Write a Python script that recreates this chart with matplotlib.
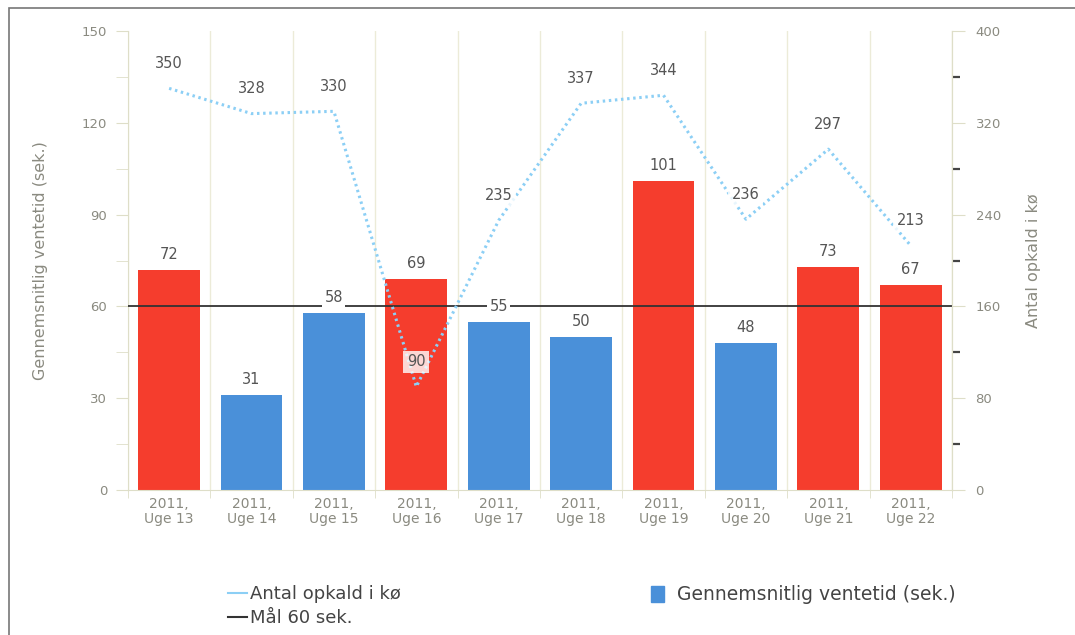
import matplotlib.pyplot as plt
import numpy as np
from matplotlib.lines import Line2D
from matplotlib.patches import Patch, Rectangle

# data
weeks = ["2011,\nUge 13", "2011,\nUge 14", "2011,\nUge 15", "2011,\nUge 16", "2011,\nUge 17",
         "2011,\nUge 18", "2011,\nUge 19", "2011,\nUge 20", "2011,\nUge 21", "2011,\nUge 22"]
wait_sec = [72, 31, 58, 69, 55, 50, 101, 48, 73, 67]
calls_in_queue = [350, 328, 330, 90, 235, 337, 344, 236, 297, 213]
target = 60

RED = '#f53d2d'
BLUE = '#4a90d9'
LINE_BLUE = '#8ccff5'
AXIS_COL = '#dedec8'
TICK_TXT = '#8a8a80'
LABEL_TXT = '#555555'

plt.rcParams['font.family'] = ['DejaVu Sans']

fig = plt.figure(figsize=(10.75, 6.35), dpi=100)
ax = fig.add_axes([0.119, 0.2283, 0.7665, 0.7229])
ax2 = ax.twinx()

x = np.arange(len(weeks))
colors = [RED if v > target else BLUE for v in wait_sec]
ax.bar(x, wait_sec, width=0.75, color=colors, zorder=2)
ax.axhline(target, color='#333333', lw=1.3, zorder=3)

for xi, v in zip(x, wait_sec):
    ax.annotate(str(v), (xi, v), xytext=(0, 11), textcoords='offset points',
                ha='center', va='center', fontsize=10.5, color=LABEL_TXT, zorder=5,
                bbox=dict(boxstyle='square,pad=0.15', fc='white', ec='none'))

ax.set_xlim(-0.5, len(weeks) - 0.5)
ax.set_ylim(0, 150)
ax.set_yticks(np.arange(0, 151, 30))
ax.set_yticks(np.arange(15, 150, 30), minor=True)
ax.set_xticks(x)
ax.set_xticklabels(weeks, fontsize=10, color=TICK_TXT, linespacing=1.1)
ax.set_xticks(np.arange(-0.5, len(weeks), 1), minor=True)
ax.tick_params(axis='x', which='major', length=0, pad=5)
ax.tick_params(axis='x', which='minor', length=6, color=AXIS_COL)
ax.tick_params(axis='y', which='both', length=9, color=AXIS_COL, labelsize=9.5,
               labelcolor=TICK_TXT, pad=6)
ax.grid(True, axis='x', which='minor', color='#ecebd8', lw=1, zorder=0)
ax.set_ylabel("Gennemsnitlig ventetid (sek.)", fontsize=11.5, color=TICK_TXT, labelpad=24)

ax.spines['top'].set_visible(False)
ax2.spines['top'].set_visible(False)
for side in ['left', 'bottom', 'right']:
    ax.spines[side].set_color(AXIS_COL)
ax2.spines['right'].set_color(AXIS_COL)
ax2.spines['left'].set_visible(False)
ax2.spines['bottom'].set_visible(False)

ax2.plot(x, calls_in_queue, color=LINE_BLUE, lw=2.2, ls=(0, (0.8, 1.2)), zorder=3)
for xi, v in zip(x, calls_in_queue):
    ax2.annotate(str(v), (xi, v), xytext=(0, 18), textcoords='offset points',
                 ha='center', va='center', fontsize=10.5, color=LABEL_TXT, zorder=5,
                 bbox=dict(boxstyle='square,pad=0.25', fc='white', ec='none', alpha=0.8))
ax2.set_ylim(0, 400)
ax2.set_yticks(np.arange(0, 401, 80))
ax2.set_yticks(np.arange(40, 400, 80), minor=True)
ax2.tick_params(axis='y', which='major', length=9, color=AXIS_COL, labelsize=9.5,
                labelcolor=TICK_TXT, pad=8)
ax2.tick_params(axis='y', which='minor', length=6, width=1.6, color='#444444')
ax2.set_ylabel("Antal opkald i kø", fontsize=11.5, color=TICK_TXT, labelpad=18)

# legends below the plot
line_handles = [Line2D([], [], color=LINE_BLUE, lw=1.5),
                Line2D([], [], color='#333333', lw=1.5)]
fig.legend(line_handles, ["Antal opkald i kø", "Mål 60 sek."],
           loc='upper left', bbox_to_anchor=(0.205, 0.09), frameon=False,
           fontsize=13, handlelength=1.1, handletextpad=0.15, labelspacing=0.35,
           labelcolor='#444444', borderaxespad=0)
fig.legend([Patch(color=BLUE)], ["Gennemsnitlig ventetid (sek.)"],
           loc='upper left', bbox_to_anchor=(0.599, 0.09), frameon=False,
           fontsize=13.5, handlelength=0.65, handleheight=0.9, handletextpad=0.7,
           labelcolor='#444444', borderaxespad=0)

# outer frame
fig.patches.append(Rectangle((0.008, -0.05), 1.1, 1.037, transform=fig.transFigure,
                             fill=False, ec='#777777', lw=1.2))

fig.savefig('out.png', dpi=100)
